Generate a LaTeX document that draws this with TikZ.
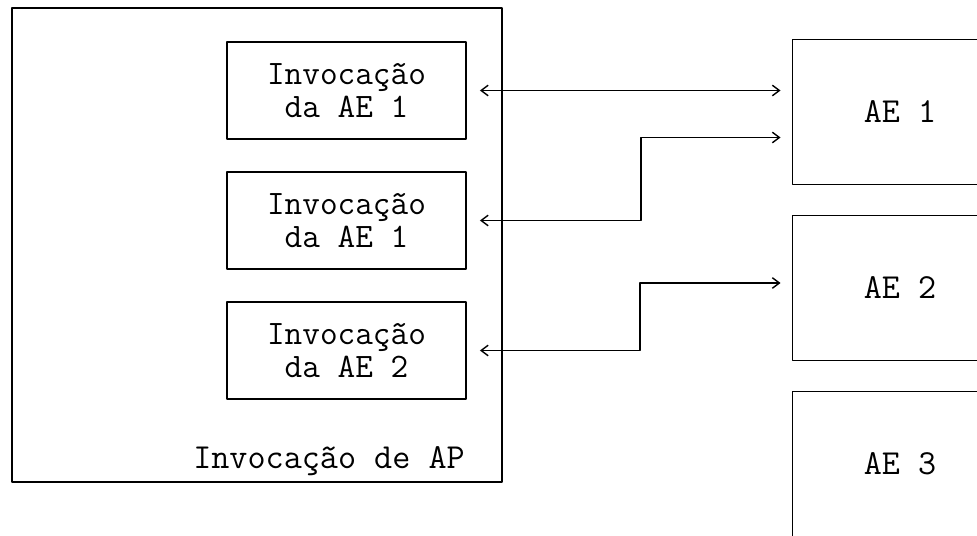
\documentclass[tikz,border=0pt]{standalone}
\usepackage{fontspec}
\usetikzlibrary{arrows.meta}

\tikzset{
  invbox/.style={draw, line width=1.1pt, minimum width=4.78cm, minimum height=1.94cm,
    align=center, font=\ttfamily\fontsize{19.5}{18.5}\selectfont},
  aebox/.style={draw, line width=1.1pt, minimum width=4.3cm, minimum height=2.9cm,
    font=\ttfamily\fontsize{20}{17}\selectfont},
  link/.style={{Straight Barb[length=4pt,width=6pt]}-{Straight Barb[length=4pt,width=6pt]}, line width=0.8pt},
}

\begin{document}
\begin{tikzpicture}[x=0.02cm,y=-0.02cm,line cap=round,line join=round]
	\useasboundingbox (0,0) rectangle (977,536);
	\clip (0,0) rectangle (977,536);
	\def\gap{0.26cm}
	
	% outer box
	\node[draw, line width=1.1pt, minimum width=9.8cm, minimum height=9.48cm] (ap) at (257,245) {};
	\node[font=\ttfamily\fontsize{20}{17}\selectfont, anchor=base east] (aplbl)
		at ([shift={(-0.64cm,0.28cm)}]ap.south east) {Invocação de AP};
	
	\foreach \i/\n in {1/1, 2/1, 3/2}
	{
		\node[invbox] (inv\i) at (346.5,{90.5+130*(\i-1)}) {Invocação\\da AE \n};
	}
	
	\foreach \i in {1, 2, 3}
	{
		\node[aebox] (ae\i) at (900,{112+176*(\i-1)}) {AE \i};
	}
	
	\draw[link] ([xshift=\gap]inv1.east) -- ([xshift=-0.22cm]inv1.east -| ae1.west);
	\draw[link] ([xshift=\gap]inv2.east) -- ++(3.22cm,0) |- ([xshift=-0.22cm,yshift=-0.51cm]ae1.west);
	\draw[link] ([xshift=\gap]inv3.east) -- ++(3.2cm,0) |- ([xshift=-0.22cm,yshift=0.1cm]ae2.west);
	
\end{tikzpicture}
\end{document}
